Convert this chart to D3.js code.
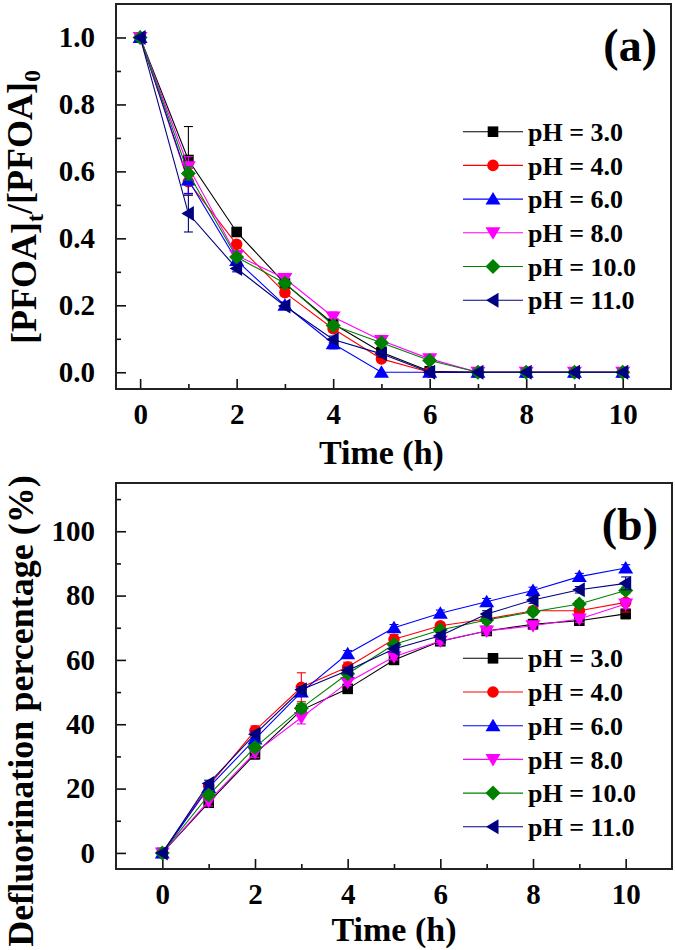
<!DOCTYPE html>
<html>
<head>
<meta charset="utf-8">
<script src="https://cdn.jsdelivr.net/npm/d3@7"></script>
<style>
  html, body { margin: 0; padding: 0; background: #fff; }
  svg { display: block; }
  text { font-family: "Liberation Serif", "Times New Roman", serif; font-weight: bold; fill: #000; }
</style>
</head>
<body>
<svg id="chart" width="675" height="950"></svg>
<script>
// ---- data ----
const times = [0, 1, 2, 3, 4, 5, 6, 7, 8, 9, 10];
const seriesNames = ["pH = 3.0", "pH = 4.0", "pH = 6.0", "pH = 8.0", "pH = 10.0", "pH = 11.0"];
const seriesColors = ["#000000", "#ff0000", "#0000ff", "#ff00ff", "#008000", "#000080"];
const seriesShapes = ["square", "circle", "triangleUp", "triangleDown", "diamond", "triangleLeft"];

// panel (a): [PFOA]t/[PFOA]0
const ratioPH3  = [1, 0.634, 0.419, 0.265, 0.145, 0.060, 0.003, 0, 0, 0, 0];
const ratioPH4  = [1, 0.569, 0.382, 0.238, 0.130, 0.040, 0, 0, 0, 0, 0];
const ratioPH6  = [1, 0.574, 0.334, 0.200, 0.085, 0, 0, 0, 0, 0, 0];
const ratioPH8  = [1, 0.614, 0.349, 0.280, 0.165, 0.095, 0.040, 0, 0, 0, 0];
const ratioPH10 = [1, 0.594, 0.344, 0.266, 0.140, 0.088, 0.035, 0, 0, 0, 0];
const ratioPH11 = [1, 0.474, 0.310, 0.198, 0.098, 0.055, 0, 0, 0, 0, 0];
const ratioErrPH3  = [0, 0.100, 0.010, 0.010, 0.010, 0.010, 0, 0, 0, 0, 0];
const ratioErrPH4  = [0, 0.040, 0.010, 0.010, 0.010, 0.010, 0, 0, 0, 0, 0];
const ratioErrPH6  = [0, 0.040, 0.010, 0.010, 0.015, 0, 0, 0, 0, 0, 0];
const ratioErrPH8  = [0, 0.030, 0.010, 0.015, 0.015, 0.015, 0.010, 0, 0, 0, 0];
const ratioErrPH10 = [0, 0.020, 0.010, 0.010, 0.010, 0.010, 0.005, 0, 0, 0, 0];
const ratioErrPH11 = [0, 0.055, 0.010, 0.010, 0.010, 0.010, 0, 0, 0, 0, 0];

// panel (b): defluorination percentage (%)
const deflPH3  = [0, 15.6, 30.7, 44.4, 51.0, 60.0, 65.8, 69.0, 71.1, 72.2, 74.3];
const deflPH4  = [0, 20.8, 38.0, 51.5, 57.8, 66.4, 70.6, 72.7, 75.3, 75.3, 77.9];
const deflPH6  = [0, 20.3, 35.4, 50.0, 61.9, 70.0, 74.5, 78.1, 81.6, 85.9, 88.6];
const deflPH8  = [0, 16.1, 31.2, 42.1, 53.0, 61.0, 65.9, 69.0, 70.6, 72.7, 77.4];
const deflPH10 = [0, 18.0, 32.8, 45.0, 55.7, 64.8, 69.3, 72.4, 75.0, 77.4, 81.6];
const deflPH11 = [0, 21.6, 36.9, 50.7, 56.7, 63.4, 67.5, 74.3, 78.6, 81.8, 83.8];
const deflErrPH3  = [0, 1.0, 1.5, 1.5, 1.0, 1.0, 1.0, 1.0, 1.5, 1.0, 1.5];
const deflErrPH4  = [0, 1.0, 1.5, 4.5, 1.5, 1.5, 1.0, 1.0, 1.0, 1.5, 3.0];
const deflErrPH6  = [0, 1.0, 1.0, 1.0, 1.0, 1.0, 1.0, 1.0, 1.0, 1.0, 1.0];
const deflErrPH8  = [0, 1.5, 1.5, 2.0, 1.0, 1.0, 1.0, 1.0, 1.0, 1.0, 1.5];
const deflErrPH10 = [0, 1.0, 1.0, 1.5, 1.0, 1.0, 1.0, 1.0, 1.0, 1.0, 1.0];
const deflErrPH11 = [0, 1.0, 1.0, 1.0, 1.0, 1.0, 1.0, 1.0, 1.0, 1.0, 2.0];

const ratioValues = [ratioPH3, ratioPH4, ratioPH6, ratioPH8, ratioPH10, ratioPH11];
const ratioErrors = [ratioErrPH3, ratioErrPH4, ratioErrPH6, ratioErrPH8, ratioErrPH10, ratioErrPH11];
const deflValues = [deflPH3, deflPH4, deflPH6, deflPH8, deflPH10, deflPH11];
const deflErrors = [deflErrPH3, deflErrPH4, deflErrPH6, deflErrPH8, deflErrPH10, deflErrPH11];

const xMajorTicks = [0, 2, 4, 6, 8, 10];
const xMinorTicks = [1, 3, 5, 7, 9];
const ratioMajorTicks = [0, 0.2, 0.4, 0.6, 0.8, 1.0];
const ratioMinorTicks = [0.1, 0.3, 0.5, 0.7, 0.9];
const deflMajorTicks = [0, 20, 40, 60, 80, 100];
const deflMinorTicks = [10, 30, 50, 70, 90, 110];

// ---- drawing ----
const svg = d3.select("#chart");

function markerPath(shape) {
  const p = d3.path();
  if (shape === "square") { const s = 5.3; p.rect(-s, -s, 2*s, 2*s); }
  else if (shape === "circle") { p.arc(0, 0, 5.8, 0, 2*Math.PI); }
  else if (shape === "triangleUp") { p.moveTo(0, -7); p.lineTo(7.5, 5.5); p.lineTo(-7.5, 5.5); p.closePath(); }
  else if (shape === "triangleDown") { p.moveTo(0, 7); p.lineTo(7.5, -5.5); p.lineTo(-7.5, -5.5); p.closePath(); }
  else if (shape === "triangleLeft") { p.moveTo(-7, 0); p.lineTo(5.5, -7.5); p.lineTo(5.5, 7.5); p.closePath(); }
  else if (shape === "diamond") { p.moveTo(0, -7.5); p.lineTo(7.5, 0); p.lineTo(0, 7.5); p.lineTo(-7.5, 0); p.closePath(); }
  return p.toString();
}

function drawPanel(cfg) {
  const { left, right, top, bottom, xDomain, yDomain, values, errors,
          yMajor, yMinor, yFormat, label, legendTop, yTitle, yTitleY, yTitleX, xTitleOffset } = cfg;
  const x = d3.scaleLinear().domain(xDomain).range([left, right]);
  const y = d3.scaleLinear().domain(yDomain).range([bottom, top]);
  const g = svg.append("g");

  // ticks (inward)
  const xAxisMajor = d3.axisBottom(x).tickValues(xMajorTicks).tickSize(-10).tickFormat(d => d).tickPadding(14);
  const xAxisMinor = d3.axisBottom(x).tickValues(xMinorTicks).tickSize(-5).tickFormat("");
  const yAxisMajor = d3.axisLeft(y).tickValues(yMajor).tickSize(-10).tickFormat(yFormat).tickPadding(21);
  const yAxisMinor = d3.axisLeft(y).tickValues(yMinor).tickSize(-5).tickFormat("");

  [xAxisMajor, xAxisMinor].forEach(ax => {
    const a = g.append("g").attr("transform", `translate(0,${bottom})`).call(ax);
    a.select(".domain").remove();
    a.selectAll("line").attr("stroke", "#111").attr("stroke-width", 1.6);
    a.selectAll("text").attr("font-size", 29).attr("font-family", "Liberation Serif").attr("font-weight", "bold").attr("fill", "#000");
  });
  [yAxisMajor, yAxisMinor].forEach(ax => {
    const a = g.append("g").attr("transform", `translate(${left},0)`).call(ax);
    a.select(".domain").remove();
    a.selectAll("line").attr("stroke", "#111").attr("stroke-width", 1.6);
    a.selectAll("text").attr("font-size", 29).attr("font-family", "Liberation Serif").attr("font-weight", "bold").attr("fill", "#000");
  });

  // series
  const line = d3.line().x((d, i) => x(times[i])).y(d => y(d));
  values.forEach((vals, si) => {
    const col = seriesColors[si];
    const sg = g.append("g");
    sg.append("path").datum(vals).attr("d", line).attr("fill", "none").attr("stroke", col).attr("stroke-width", 1.1);
    const errs = errors[si];
    vals.forEach((v, i) => {
      const e = errs[i];
      if (e > 0) {
        const cx = x(times[i]);
        const y1 = y(v + e), y2 = y(v - e);
        sg.append("line").attr("x1", cx).attr("x2", cx).attr("y1", y1).attr("y2", y2).attr("stroke", col).attr("stroke-width", 1.1);
        sg.append("line").attr("x1", cx - 4.5).attr("x2", cx + 4.5).attr("y1", y1).attr("y2", y1).attr("stroke", col).attr("stroke-width", 1.1);
        sg.append("line").attr("x1", cx - 4.5).attr("x2", cx + 4.5).attr("y1", y2).attr("y2", y2).attr("stroke", col).attr("stroke-width", 1.1);
      }
    });
    sg.selectAll("path.mk").data(vals).enter().append("path").attr("class", "mk")
      .attr("d", markerPath(seriesShapes[si]))
      .attr("transform", (d, i) => `translate(${x(times[i])},${y(d)})`)
      .attr("fill", col);
  });

  // frame
  g.append("rect").attr("x", left).attr("y", top).attr("width", right - left).attr("height", bottom - top)
    .attr("fill", "none").attr("stroke", "#222").attr("stroke-width", 2);

  // panel label
  g.append("text").attr("x", right - 14).attr("y", top + 57).attr("text-anchor", "end")
    .attr("font-size", 46).text(label);

  // legend
  seriesNames.forEach((name, si) => {
    const ly = legendTop + si * 33.7;
    g.append("line").attr("x1", 463).attr("x2", 523).attr("y1", ly).attr("y2", ly)
      .attr("stroke", seriesColors[si]).attr("stroke-width", 1.1);
    g.append("path").attr("d", markerPath(seriesShapes[si])).attr("transform", `translate(493,${ly})`).attr("fill", seriesColors[si]);
    g.append("text").attr("x", 528).attr("y", ly).attr("dy", "0.35em").attr("font-size", 26).text(name);
  });

  // x title
  g.append("text").attr("x", x(5)).attr("y", bottom + xTitleOffset).attr("text-anchor", "middle")
    .attr("font-size", 34).text("Time (h)");

  // y title
  const yt = g.append("text").attr("transform", `translate(${yTitleX},${yTitleY}) rotate(-90)`)
    .attr("text-anchor", "middle").attr("font-size", 36);
  yTitle(yt);
}

drawPanel({
  left: 116, right: 671, top: 4, bottom: 389,
  xDomain: [-0.5, 11], yDomain: [-0.05, 1.1],
  values: ratioValues, errors: ratioErrors,
  yMajor: ratioMajorTicks, yMinor: ratioMinorTicks, yFormat: d3.format(".1f"),
  label: "(a)", legendTop: 131.7, xTitleOffset: 75,
  yTitleX: 36, yTitleY: 207,
  yTitle: t => {
    t.append("tspan").text("[PFOA]");
    t.append("tspan").attr("font-size", 24).attr("dy", "0.3em").text("t");
    t.append("tspan").attr("dy", "-0.3em").text("/[PFOA]");
    t.append("tspan").attr("font-size", 24).attr("dy", "0.3em").text("0");
  }
});

drawPanel({
  left: 116, right: 672, top: 483, bottom: 869,
  xDomain: [-1, 11], yDomain: [-5, 115],
  values: deflValues, errors: deflErrors,
  yMajor: deflMajorTicks, yMinor: deflMinorTicks, yFormat: d3.format("d"),
  label: "(b)", legendTop: 658.3, xTitleOffset: 72,
  yTitleX: 33, yTitleY: 711,
  yTitle: t => { t.text("Defluorination percentage (%)"); }
});
</script>
</body>
</html>
